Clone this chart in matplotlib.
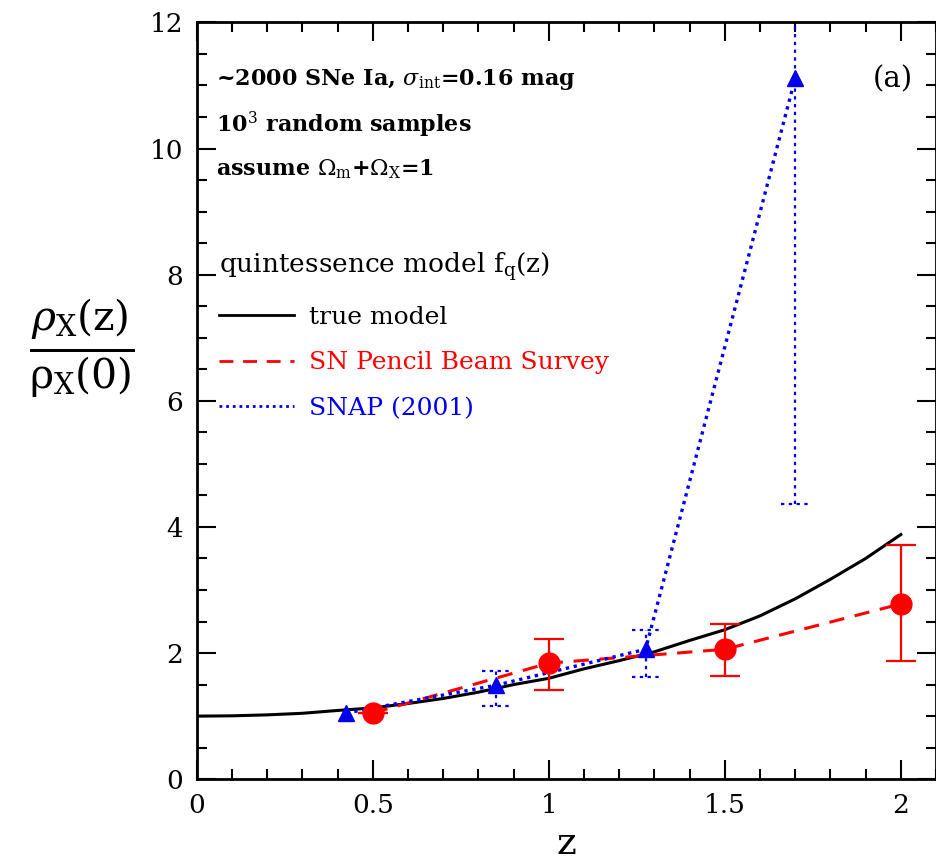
import matplotlib
matplotlib.use("Agg")
import matplotlib.pyplot as plt
from matplotlib.lines import Line2D
from matplotlib.ticker import MultipleLocator

plt.rcParams['font.family'] = ['DejaVu Serif']
plt.rcParams['mathtext.fontset'] = 'dejavuserif'

# true quintessence model
model_z = [0.0, 0.1, 0.2, 0.3, 0.4, 0.5, 0.6, 0.7, 0.8, 0.9, 1.0,
           1.1, 1.2, 1.3, 1.4, 1.5, 1.6, 1.7, 1.8, 1.9, 2.0]
model_rho = [1.0, 1.005, 1.02, 1.045, 1.09, 1.13, 1.20, 1.28, 1.38, 1.50, 1.60,
             1.75, 1.88, 2.02, 2.20, 2.37, 2.59, 2.86, 3.17, 3.50, 3.88]

# SN Pencil Beam Survey reconstruction
spbs_z = [0.5, 1.0, 1.5, 2.0]
spbs_rho = [1.05, 1.84, 2.06, 2.78]
spbs_lo = [1.05, 1.42, 1.64, 1.87]
spbs_hi = [1.05, 2.22, 2.46, 3.71]

# SNAP (2001) reconstruction
snap_z = [0.425, 0.85, 1.275, 1.70]
snap_rho = [1.05, 1.49, 2.06, 11.12]
snap_lo = [1.05, 1.16, 1.62, 4.37]
snap_hi = [1.05, 1.71, 2.37, 17.9]

RED = '#ff0000'
BLUE = '#0000ee'

fig = plt.figure(figsize=(9.37, 8.61), dpi=100)
ax = fig.add_axes([0.21, 0.095, 0.789, 0.879])

ax.plot(model_z, model_rho, color='black', lw=2.2, zorder=3)

# SN pencil beam: dashed line, filled circles, solid error bars
ax.plot(spbs_z, spbs_rho, color=RED, lw=2.2, ls=(0, (5, 3.5)), zorder=4)
ax.errorbar(spbs_z, spbs_rho,
            yerr=[[r - l for r, l in zip(spbs_rho, spbs_lo)],
                  [h - r for r, h in zip(spbs_rho, spbs_hi)]],
            fmt='o', color=RED, ms=15, capsize=11, capthick=1.6, elinewidth=1.6,
            zorder=5)

# SNAP: dotted line, triangles, dotted error bars with dotted caps
ax.plot(snap_z, snap_rho, color=BLUE, lw=2.4, ls=(0, (1, 1.4)), zorder=4)
ax.vlines(snap_z, snap_lo, snap_hi, color=BLUE, lw=1.6, ls=(0, (1.5, 2)), zorder=4)
cap = 0.04
for z, lo, hi in zip(snap_z, snap_lo, snap_hi):
    if hi > lo:
        ax.hlines([lo, hi], z - cap, z + cap, color=BLUE, lw=1.6,
                  ls=(0, (1.5, 2)), zorder=4)
ax.plot(snap_z, snap_rho, ls='none', marker='^', color=BLUE, ms=12, zorder=6)

ax.set_xlim(0, 2.1)
ax.set_ylim(0, 12)
ax.xaxis.set_major_locator(MultipleLocator(0.5))
ax.xaxis.set_minor_locator(MultipleLocator(0.1))
ax.yaxis.set_major_locator(MultipleLocator(2))
ax.yaxis.set_minor_locator(MultipleLocator(0.5))
ax.set_xticks([0, 0.5, 1, 1.5, 2])
ax.set_xticklabels(['0', '0.5', '1', '1.5', '2'])
ax.tick_params(which='both', direction='in', top=True, right=True, width=1.5,
               labelsize=19)
ax.tick_params(which='major', length=14, pad=10)
ax.tick_params(which='minor', length=7.5)
for s in ax.spines.values():
    s.set_linewidth(2)

ax.set_xlabel('z', fontsize=27, labelpad=6)
fig.text(0.087, 0.594, r'$\frac{\rho_{\rm X}(\rm z)}{\rho_{\rm X}(0)}$',
         fontsize=42, ha='center', va='center')

ax.text(0.055, 11.1, r'~2000 SNe Ia, $\sigma_{\rm int}$=0.16 mag',
        fontsize=16, fontweight='bold', va='center')
ax.text(0.055, 10.38, r'10$^3$ random samples',
        fontsize=16, fontweight='bold', va='center')
ax.text(0.055, 9.67, r'assume $\Omega_{\rm m}$+$\Omega_{\rm X}$=1',
        fontsize=16, fontweight='bold', va='center')
ax.text(2.035, 11.1, '(a)', fontsize=21, ha='right', va='center')

handles = [Line2D([], [], color='black', lw=2),
           Line2D([], [], color=RED, lw=2, ls=(0, (5, 3.5))),
           Line2D([], [], color=BLUE, lw=2, ls=(0, (1, 1.4)))]
labels = ['true model', 'SN Pencil Beam Survey', 'SNAP (2001)']
leg = ax.legend(handles, labels, title=r'quintessence model f$_{\rm q}$(z)',
                loc='upper left', bbox_to_anchor=(0.0, 0.728), frameon=False,
                fontsize=18, title_fontsize=19, handlelength=3.0,
                handletextpad=0.6, labelspacing=0.9, labelcolor='linecolor',
                alignment='left')

fig.savefig('out.png', dpi=100)
